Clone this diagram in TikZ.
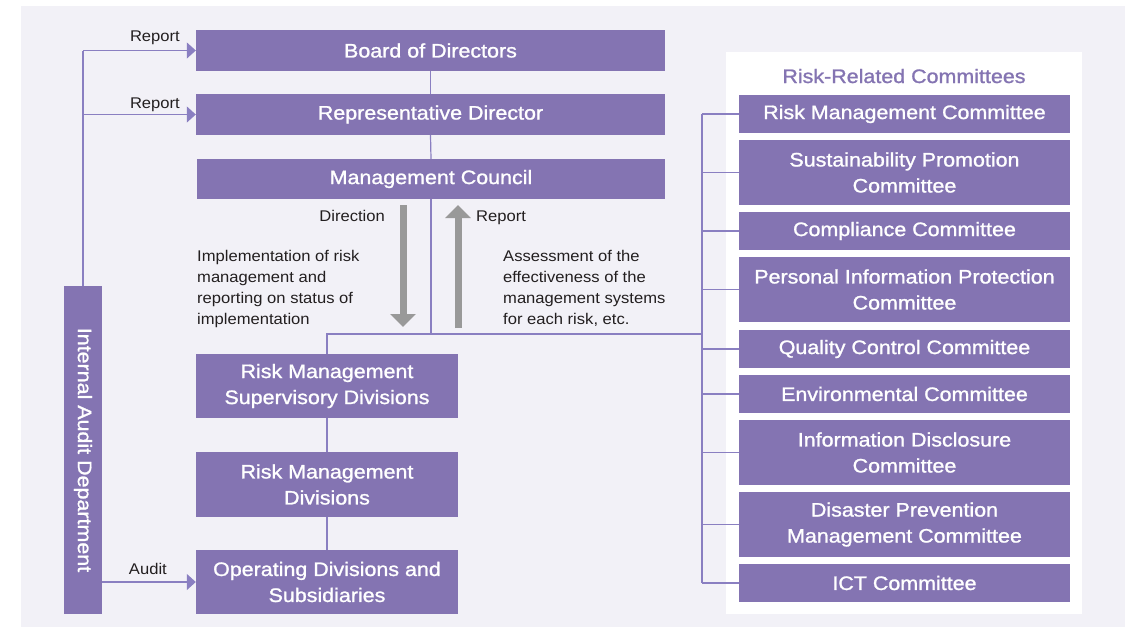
\documentclass[tikz,border=0pt]{standalone}
\usepackage{fontspec}
\setmainfont{Liberation Sans}
\newfontfamily\boxfont[FakeStretch=1.1,FakeBold=1.2]{Liberation Sans}
\newfontfamily\lblfont[FakeStretch=1.07]{Liberation Sans}
\usetikzlibrary{arrows.meta}
\definecolor{boxc}{HTML}{8474B2}
\definecolor{linec}{HTML}{8A7FC1}
\definecolor{bgc}{HTML}{F2F1F7}
\definecolor{arrc}{HTML}{999999}
\definecolor{txtc}{HTML}{231F20}
\begin{document}
\begin{tikzpicture}[x=1pt,y=-1pt,
  box/.style={fill=boxc, text=white, inner sep=0pt, align=center, font=\boxfont\fontsize{19.5}{26}\selectfont},
  lbl/.style={font=\lblfont\fontsize{15.5}{20.7}\selectfont, text=txtc, inner sep=0pt},
  conn/.style={draw=linec, line width=1.2pt},
  tipa/.style={-{Triangle[length=9pt,width=16pt]}},
  bigarr/.style={draw=arrc, line width=7pt, -{Triangle[length=13pt,width=25pt]}}]
\useasboundingbox (0,0) rectangle (1136,627);
\fill[white] (0,0) rectangle (1136,627);
\fill[bgc] (21,6) rectangle (1125,627);
\fill[white] (726,52) rectangle (1082,614);

% left column boxes
\node[box, minimum width=469pt, minimum height=41pt] (bod) at (430.5,50.5) {Board of Directors};
\node[box, minimum width=469pt, minimum height=41pt] (rep) at (430.5,114.5) {Representative Director};
\node[box, minimum width=468pt, minimum height=40pt] (mc) at (431,179) {Management Council};
\node[box, minimum width=38pt, minimum height=328pt] (iad) at (83,450) {};
\node[font=\boxfont\fontsize{19.5}{26}\selectfont, text=white, rotate=-90, inner sep=0pt] (iadt) at (iad.center) {Internal Audit Department};
\node[box, minimum width=262pt, minimum height=64pt] (rms) at (327,386) {Risk Management\\Supervisory Divisions};
\node[box, minimum width=262pt, minimum height=65pt] (rmd) at (327,484.5) {Risk Management\\Divisions};
\node[box, minimum width=262pt, minimum height=64pt] (ops) at (327,582) {Operating Divisions and\\Subsidiaries};

% committees
\node[text=boxc, font=\boxfont\fontsize{19.5}{26}\selectfont, inner sep=0pt, anchor=base] (rrc) at (904,83) {Risk-Related Committees};
\node[box, minimum width=331pt, minimum height=38pt] (c1) at (904.5,114) {Risk Management Committee};
\node[box, minimum width=331pt, minimum height=65pt] (c2) at (904.5,172.5) {Sustainability Promotion\\Committee};
\node[box, minimum width=331pt, minimum height=38pt] (c3) at (904.5,231) {Compliance Committee};
\node[box, minimum width=331pt, minimum height=65pt] (c4) at (904.5,289.5) {Personal Information Protection\\Committee};
\node[box, minimum width=331pt, minimum height=38pt] (c5) at (904.5,349) {Quality Control Committee};
\node[box, minimum width=331pt, minimum height=38pt] (c6) at (904.5,394) {Environmental Committee};
\node[box, minimum width=331pt, minimum height=65pt] (c7) at (904.5,452.5) {Information Disclosure\\Committee};
\node[box, minimum width=331pt, minimum height=65pt] (c8) at (904.5,524.5) {Disaster Prevention\\Management Committee};
\node[box, minimum width=331pt, minimum height=38pt] (c9) at (904.5,583) {ICT Committee};

% junctions
\coordinate (jm) at (431,334);
\coordinate (jl) at (327,334);
\coordinate (jr) at (702,334);

\draw[conn] (mc.south) -- (jm);
\draw[conn] (rms.north) -- (jl) -- (jr);
\draw[conn] (rms.south) -- (rmd.north);
\draw[conn] (rmd.south) -- (ops.north);
\draw[conn] (bod.south) -- (rep.north);
\draw[conn] (rep.south) -- (mc.north);
\draw[conn] (c1.west -| jr) -- (c9.west -| jr);
\foreach \c in {c1,c2,c3,c4,c5,c6,c7,c8,c9}{\draw[conn] (\c.west -| jr) -- (\c.west);}

% audit connectors
\draw[conn] (iad.north) -- (iad.north |- bod.west);
\draw[conn, tipa] (iad.north |- bod.west) -- (bod.west);
\draw[conn, tipa] (iad.north |- rep.west) -- (rep.west);
\draw[conn, tipa] (iad.east |- ops.west) -- (ops.west);
\node[lbl, anchor=base east] (lr1) at (180,41) {Report};
\node[lbl, anchor=base east] (lr2) at (180,108) {Report};
\node[lbl, anchor=base east] (la) at (167,574) {Audit};

% gray arrows
\coordinate (da1) at (403,205);
\coordinate (da2) at (403,327);
\coordinate (ua1) at (458,328);
\coordinate (ua2) at (458,205);
\draw[bigarr] (da1) -- (da2);
\draw[bigarr] (ua1) -- (ua2);
\node[lbl, anchor=base east] (ldir) at (385,221) {Direction};
\node[lbl, anchor=base west] (lrep) at (476,221) {Report};
\node[lbl, anchor=base west, align=left] (limp) at (197,324) {Implementation of risk\\management and\\reporting on status of\\implementation};
\node[lbl, anchor=base west, align=left] (lass) at (503,324) {Assessment of the\\effectiveness of the\\management systems\\for each risk, etc.};
\end{tikzpicture}
\end{document}
